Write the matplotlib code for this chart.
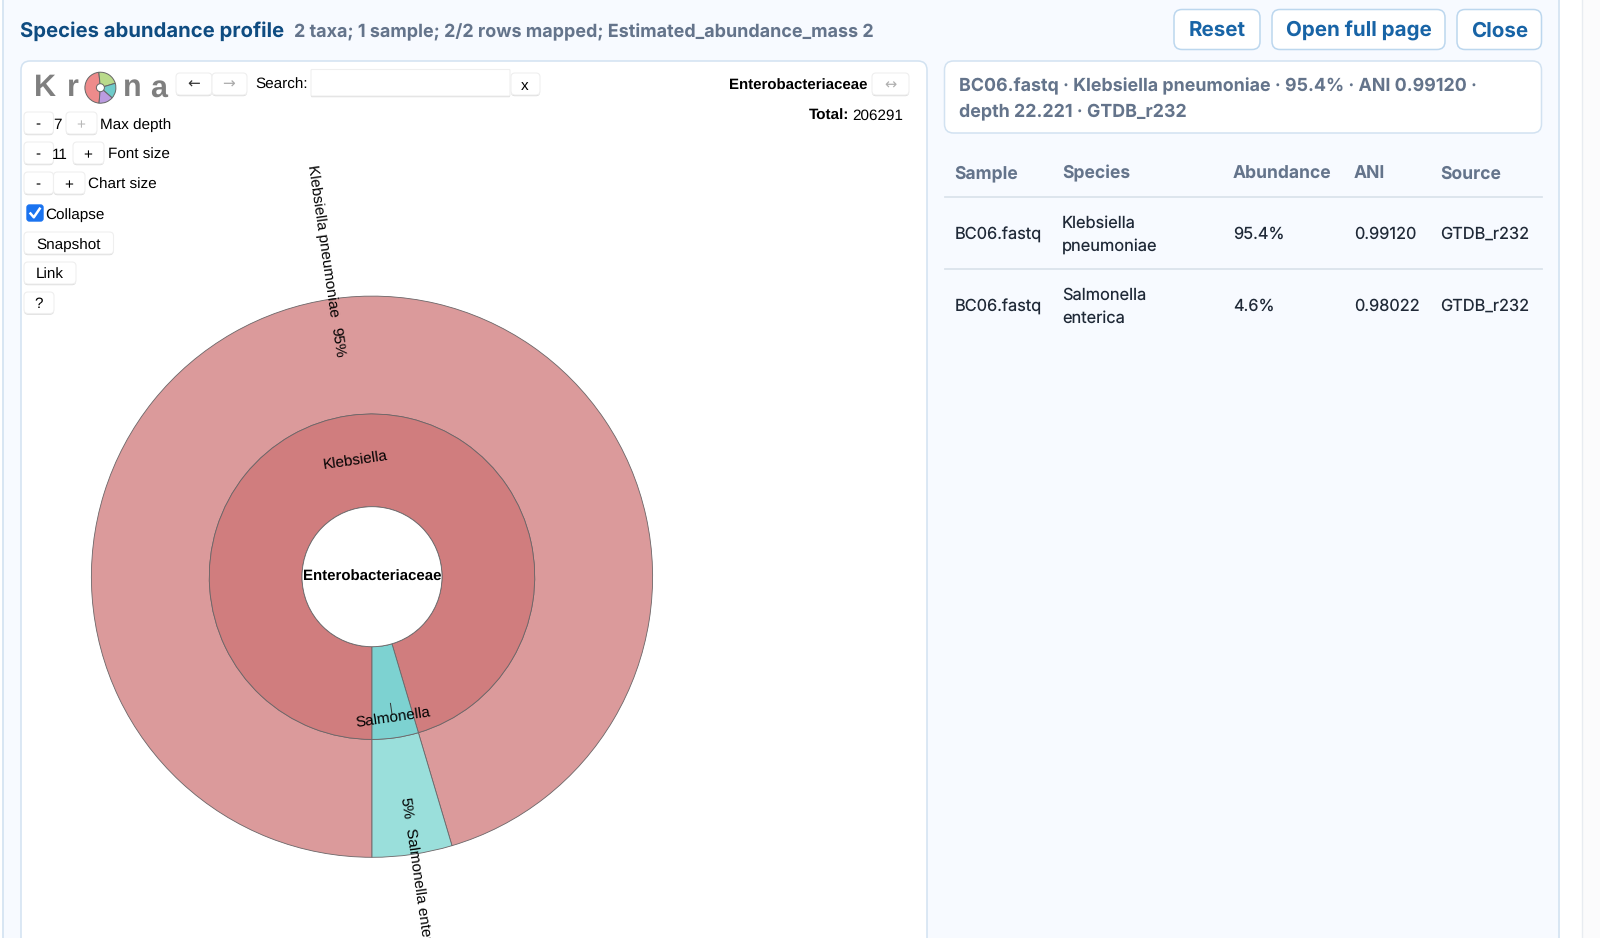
# plot.py
#   krona species abundance panel, drawn in pixel coordinates

import matplotlib
matplotlib.use("Agg")
import matplotlib.pyplot as plt
from matplotlib.patches import FancyBboxPatch, Rectangle, Wedge, Circle
import numpy as np

plt.rcParams["text.hinting"] = "none"

# data
taxa = ["Klebsiella", "Salmonella"]
species = ["Klebsiella pneumoniae", "Salmonella enterica"]
shares = [95.4, 4.6]
share_labels = ["95%", "5%"]
root = "Enterobacteriaceae"
total = "206291"
inner_colors = ["#d07d7e", "#7dd2d1"]
outer_colors = ["#db9a9b", "#9adfdb"]

table_header = ["Sample", "Species", "Abundance", "ANI", "Source"]
table_rows = [
    ["BC06.fastq", "Klebsiella\npneumoniae", "95.4%", "0.99120", "GTDB_r232"],
    ["BC06.fastq", "Salmonella\nenterica", "4.6%", "0.98022", "GTDB_r232"],
]
logo_shares = [47, 22, 16, 15]
logo_colors = ["#ee8b8b", "#b9da8b", "#6fcbca", "#bb9ce0"]

UI = "Inter"
KR = "Liberation Sans"
BLUE = "#0f4c81"
LINK = "#1864a6"
SLATE = "#64748b"
EDGE = "#d2e2f1"

fig = plt.figure(figsize=(16, 9.38), dpi=100, facecolor="white")
ax = fig.add_axes([0, 0, 1, 1])
ax.set_xlim(0, 1600)
ax.set_ylim(938, 0)
ax.axis("off")


def box(x0, y0, x1, y1, fc="white", ec=EDGE, lw=1.0, r=4, z=2):
    ax.add_patch(FancyBboxPatch((x0 + r, y0 + r), x1 - x0 - 2 * r, y1 - y0 - 2 * r,
                                boxstyle=f"round,pad={r},rounding_size={r}",
                                fc=fc, ec=ec, lw=lw, zorder=z))


def btn(x0, y0, x1, y1, r=4):
    # krona buttons have a soft shadow under them instead of an outline
    box(x0, y0 + 1.2, x1, y1 + 1.2, fc="#d9d9d9", ec="none", r=r, z=2)
    box(x0, y0, x1, y1, fc="white", ec="#efefef", lw=0.8, r=r, z=2.5)


def txt(x, y, s, size=11, color="black", weight="normal", ha="left", family=KR, **kw):
    if "rotation" not in kw:
        y = y + 1.2
    return ax.text(x, y, s, fontsize=size, color=color, fontweight=weight, ha=ha,
                   va="center", family=family, zorder=6, **kw)


# page panel
ax.add_patch(Rectangle((3, -5), 1556, 960, fc="#f7faff", ec=EDGE, lw=1.2, zorder=0))
ax.add_patch(Rectangle((1582, -5), 30, 960, fc="#fbfbfc", ec="#e8ecf1", lw=1.0, zorder=0))

txt(20, 30, "Species abundance profile", 14.6, BLUE, "bold", family=UI)
txt(294.5, 30.5, "2 taxa; 1 sample; 2/2 rows mapped; Estimated_abundance_mass 2", 12.95, SLATE, "bold", family=UI)

for (x0, x1, label) in [(1174, 1260, "Reset"), (1272, 1445, "Open full page"), (1457, 1541.5, "Close")]:
    box(x0, 9.5, x1, 49.5, fc="white", ec="#bcd7ee", lw=1.1, r=8)
    txt((x0 + x1) / 2, 30, label, 14.8, LINK, "bold", "center", family=UI)

# krona panel
box(21, 61, 927, 990, fc="white", ec=EDGE, lw=1.1, r=9, z=1)

# info box and table
box(944.5, 61, 1541.5, 133, fc="white", ec=EDGE, lw=1.1, r=9)
info = "BC06.fastq · Klebsiella pneumoniae · 95.4% · ANI 0.99120 ·\ndepth 22.221 · GTDB_r232"
for i, line in enumerate(info.split("\n")):
    txt(959, 85.5 + i * 24.5, line, 12.85, SLATE, "bold", family=UI)

col_x = [954.5, 1062, 1233, 1354, 1440.5]
for x, h in zip(col_x, table_header):
    txt(x, 172.5, h, 12.6, SLATE, "bold", family=UI)
for y in [197.5, 269]:
    ax.plot([944.5, 1541.5], [y, y], color="#dbe3ec", lw=1.3, zorder=2)
for y, row in zip([233.5, 305.5], table_rows):
    for x, cell in zip(col_x, row):
        lines = cell.split("\n")
        for i, line in enumerate(lines):
            txt(x, y + (i - (len(lines) - 1) / 2) * 23.4, line, 11.8, "#1f2937", family=UI)

# sunburst
cx, cy = 372, 576.7
r_in, r_mid, r_out = 70, 162.7, 280.6
edge = "#6b6567"
# salmonella starts at 6 o'clock and runs counter clockwise, klebsiella takes the rest
sal_span = shares[1] / sum(shares) * 360
# y axis is inverted, so angle 90 is straight down and angles run clockwise on screen
starts = [90, 90 - sal_span]
ends = [90 - sal_span + 360, 90]
for start, end, c_in, c_out in zip(starts, ends, inner_colors, outer_colors):
    ax.add_patch(Wedge((cx, cy), r_out, start, end, width=r_out - r_mid, fc=c_out, ec=edge, lw=0.6, zorder=3))
    ax.add_patch(Wedge((cx, cy), r_mid, start, end, width=r_mid - r_in, fc=c_in, ec=edge, lw=0.6, zorder=3))
ax.add_patch(Circle((cx, cy), r_in, fc="white", ec=edge, lw=0.6, zorder=3))

tilt = sal_span / 2
dx, dy = np.sin(np.radians(tilt)), np.cos(np.radians(tilt))


def along(r, sign):
    return cx + sign * dx * r, cy + sign * dy * r


radial = tilt - 90
kw = dict(rotation_mode="anchor", clip_on=False)
x, y = along(339, -1)
txt(x, y, species[0], 11, ha="center", rotation=radial, **kw)
x, y = along(237, -1)
txt(x, y, share_labels[0], 11, ha="center", rotation=radial, **kw)
x, y = along(116.5, -1)
txt(x, y, taxa[0], 11, ha="center", rotation=tilt, **kw)

x, y = along(234, 1)
txt(x, y, share_labels[1], 11, ha="center", rotation=radial, **kw)
x, y = along(254, 1)
txt(x, y, species[1], 11, ha="left", rotation=radial, **kw)
x, y = along(143, 1)
txt(x, y, taxa[1], 11, ha="center", rotation=tilt, **kw)
ax.plot(*zip(along(128, 1), along(139, 1)), color="#333333", lw=0.7, zorder=5)

txt(cx, cy - 0.7, root, 10.8, weight="bold", ha="center")

# krona logo
for x, letter in [(33.5, "K"), (67, "r"), (123, "n"), (150.5, "a")]:
    txt(x, 87, letter, 22, "#7f7f7f", "bold")
lx, ly = 100.4, 87.7
fracs = np.cumsum([0] + logo_shares) / sum(logo_shares) * 360 + 95
for a, b, c in zip(fracs[:-1], fracs[1:], logo_colors):
    ax.add_patch(Wedge((lx, ly), 15.5, a, b, fc=c, ec="#666666", lw=0.7, zorder=4))
ax.add_patch(Circle((lx, ly), 4, fc="white", ec="#666666", lw=0.7, zorder=4))

# krona controls
btn(176, 73, 212, 95)
btn(212, 73, 247, 95)
txt(194, 83, "←", 11, "#333333", ha="center", family="DejaVu Sans")
txt(229, 83, "→", 11, "#aaaaaa", ha="center", family="DejaVu Sans")
txt(255, 84, "Search:", 11)
btn(311, 69.5, 510, 96, r=1)
btn(511, 73, 540, 95)
txt(525, 85, "x", 11, ha="center")

btn(24, 112, 53.5, 134)
btn(66, 112, 97, 134)
txt(38, 123, "-", 11, ha="center")
txt(57, 123.5, "7", 11, ha="center")
txt(80.5, 124, "+", 11, "#b8b8b8", ha="center")
txt(100.5, 123.5, "Max depth", 11)

btn(24, 142, 53.5, 164)
btn(73, 142, 104, 164)
txt(38, 153, "-", 11, ha="center")
txt(60, 153.5, "11", 11, ha="center")
txt(88, 154, "+", 11, ha="center")
txt(108, 153.5, "Font size", 11)

btn(24, 172, 53.5, 194)
btn(53.5, 172, 85, 194)
txt(38, 183, "-", 11, ha="center")
txt(68.5, 184, "+", 11, ha="center")
txt(88, 183.5, "Chart size", 11)

box(27, 205, 43, 221, fc="#1a73f0", ec="#1a73f0", r=2.5, z=4)
ax.plot([30.5, 33.8, 39.7], [213.5, 217.3, 208.7], color="white", lw=1.8, zorder=5)
txt(45.7, 213.5, "Collapse", 11)

btn(24, 232, 113.5, 254)
txt(68.5, 243.5, "Snapshot", 11, ha="center")
btn(24, 262, 76, 284)
txt(49.5, 273, "Link", 11, ha="center")
btn(24, 292, 54, 313.5)
txt(38.5, 302.5, "?", 11, ha="center")

txt(867, 85, root, 10.8, weight="bold", ha="right")
btn(872, 73, 909, 95)
txt(890, 84, "↔", 10.5, "#b0b0b0", ha="center", family="DejaVu Sans")
txt(809, 114.5, "Total:", 11, weight="bold")
txt(903, 114.5, total, 11, ha="right")

fig.savefig("out.png", dpi=100)
